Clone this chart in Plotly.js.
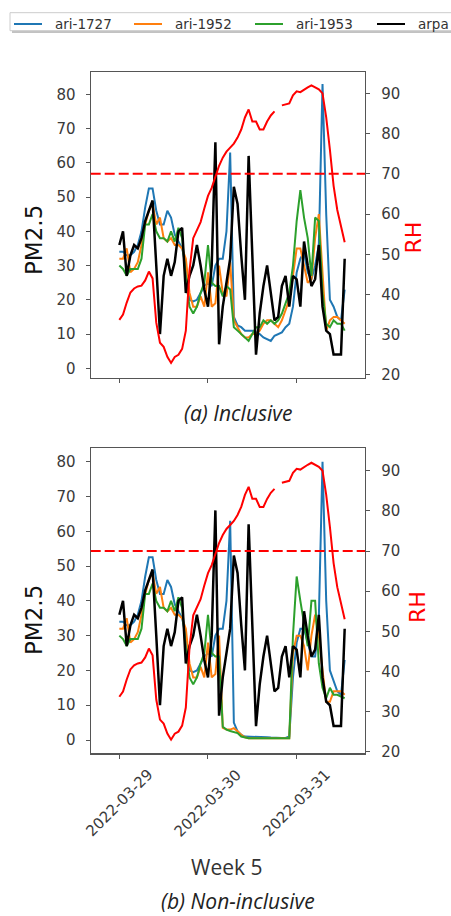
<!DOCTYPE html>
<html>
<head>
<meta charset="utf-8">
<script src="https://cdn.plot.ly/plotly-3.0.1.min.js"></script>
<style>html,body{margin:0;padding:0;background:#fff;}#chart{width:451px;height:916px;}</style>
</head>
<body>
<div id="chart"></div>
<script>
// ---------- DATA ----------
const seriesNames = ['ari-1727', 'ari-1952', 'ari-1953', 'arpa'];
const seriesColors = ['#1f77b4', '#ff7f0e', '#2ca02c', '#000000'];
const startHour = '2022-03-29 00:00';
const nHours = 62;
const tickDates = ['2022-03-29', '2022-03-30', '2022-03-31'];
const tickLabels = ['2022-03-29', '2022-03-30', '2022-03-31'];
const rhThreshold = 70;
const panelCaptions = ['(a) Inclusive', '(b) Non-inclusive'];
const xTitle = 'Week 5';

// (a) Inclusive
const ari1727_a = [34,34,33,33,34,36,40,47,52.5,52.5, 46,42,42,46,44,39,37,35,30,20, 19.5,20,22,24,25,24,30,32,32,40,
  63,15,12.5,12,11,11,11,10.5,10,9, 8.5,8,9.5,10,10.5,12,13,18,28,32, 34,28,26,30,36,83,45,20,18,15, 14,23];
const ari1952_a = [32,32,35,28,29,31,36,42,46,48, 42,44,38,37,38,36,36,35,32,22, 18,18,21,18,28,18,19,30,22,21,
  31,14,12,10,9,9,10,10,11,13, 14,14,13,12,14,17,20,27,35,35, 30,25,26,38,45,28,11,14,15,15, 14,13];
const ari1953_a = [30,29,27,29,29,29,32,42,42,45, 40,38,38,37,40,37,41,38,26,18, 16,18,22,25,36,25,24,24,21,24,
  23,12,11,10,9,8,10,12,12,14, 13,14,13,14,16,19,22,30,43,52, 44,38,27,44,43,22,13,12,14,13, 13,11];
// arpa reference (same in both panels)
const arpa = [36,40,27,33,36,35,38,43,46,49, 30,10,27,32,27,31,40,41,22,27, 30,36,30,23,18,30,66,7,18,25,
  32,53,48,33,20,62,31,4,16,24, 30,22,14,15,24,27,18,27,26,18, 37,30,24,26,36,18,11,10,4,4, 4,32];
// relative humidity (same in both panels)
const rh = [33.7,35,38,40.5,41.5,42,42.2,43.5,45.7,44, 33,28,27,24.5,23,24.5,25,26.5,31,46, 54,56,58,61.4,64.5,66.5,69.5,72,74,75.5,
  76.5,77.5,79,81,84,86,83,83,81,81, 83,84.5,85.5,null,87,87.3,87.5,89.5,90.5,90.3, 91,91.5,92,91.5,91,90,84,76,67,61, 57,53];

// (b) Non-inclusive
const ari1727_b = [34,34,33,33,34,36,40,47,52.5,52.5, 46,42,42,46,44,39,37,35,30,20, 19.5,20,22,24,25,24,30,32,32,40,
  63,5,2.5,1.5,1,1,1,1,0.8,0.8, 0.8,0.7,0.6,0.6,0.6,0.6,1,18,28,32, 32,28,24,24,35,80,40,20,17,14, 13,23];
const ari1952_b = [32,32,35,28,29,31,36,42,46,48, 42,44,38,37,38,36,36,35,32,22, 18,18,21,18,28,18,19,30,3.5,3,
  3,3.4,2.5,1.5,0.8,0.5,0.5,0.5,0.6,0.5, 0.5,0.5,0.6,0.5,0.5,0.5,0.5,25,30,30, 27,20,30,36,30,20,11,11,14,14, 14,13];
const ari1953_b = [30,29,27,29,29,29,32,42,42,45, 40,38,38,37,40,37,41,38,26,18, 16,18,22,25,36,25,24,24,3.8,3,
  2.6,2.4,2,1,0.7,0.5,0.5,0.6,0.5,0.5, 0.5,0.5,0.5,0.5,0.5,0.5,0.5,30,47,40, 33,27,40,40,22,15,12,15,13,13, 12.5,12];

// ---------- BUILD ----------
function hourStamp(h) {
  const base = new Date(startHour.replace(' ', 'T') + ':00Z');
  const d = new Date(base.getTime() + h * 3600000);
  return d.toISOString().slice(0, 16).replace('T', ' ');
}
const times = Array.from({length: nHours}, (_, i) => hourStamp(i));

const W = 451, H = 916;
const px = v => v / W;
const py = v => 1 - v / H;

const panels = [
  {x: 'x', y: 'y', y2: 'y2', data: [ari1727_a, ari1952_a, ari1953_a, arpa]},
  {x: 'x2', y: 'y3', y2: 'y4', data: [ari1727_b, ari1952_b, ari1953_b, arpa]}
];

const traces = [];
panels.forEach(p => {
  p.data.forEach((vals, i) => {
    traces.push({
      x: times, y: vals, xaxis: p.x, yaxis: p.y, type: 'scatter', mode: 'lines',
      name: seriesNames[i], showlegend: false,
      line: {color: seriesColors[i], width: i === 3 ? 2.5 : 2}
    });
  });
});
panels.forEach(p => {
  traces.push({
    x: times, y: rh, xaxis: p.x, yaxis: p.y2, type: 'scatter', mode: 'lines',
    name: 'RH', showlegend: false, connectgaps: false,
    line: {color: '#ff0000', width: 2}
  });
});

const tickFont = {family: 'DejaVu Sans', size: 15, color: '#3a3a3a'};
const lineCol = '#555';
const xRange = ['2022-03-28 16:15', '2022-03-31 18:30'];
const xDomain = [px(90.7), px(365)];

function xAxis(anchor) {
  return {domain: xDomain, anchor: anchor, type: 'date', range: xRange,
    tickvals: tickDates, showticklabels: false, ticks: 'outside', ticklen: 4, tickcolor: lineCol,
    showline: true, mirror: true, linecolor: lineCol, linewidth: 1.2, showgrid: false, zeroline: false};
}
function leftAxis(anchor, domain, range) {
  return {domain: domain, anchor: anchor, range: range, tickvals: [0,10,20,30,40,50,60,70,80],
    ticks: 'outside', ticklen: 4, tickcolor: lineCol, ticklabelstandoff: 7, tickfont: tickFont,
    showline: true, linecolor: lineCol, linewidth: 1.2, showgrid: false, zeroline: false};
}
function rightAxis(anchor, over, range) {
  return {overlaying: over, anchor: anchor, side: 'right', range: range, tickvals: [20,30,40,50,60,70,80,90],
    ticks: 'outside', ticklen: 4, tickcolor: lineCol, ticklabelstandoff: 8, tickfont: tickFont,
    showline: true, linecolor: lineCol, linewidth: 1.2, showgrid: false, zeroline: false};
}

const shapes = [];
const annotations = [];
function note(o) {
  annotations.push(Object.assign({xref: 'paper', yref: 'paper', showarrow: false, xanchor: 'center', yanchor: 'middle'}, o));
}

// threshold lines
[['x', 'y2'], ['x2', 'y4']].forEach(([xa, ya]) => {
  shapes.push({type: 'line', xref: xa + ' domain', yref: ya, x0: 0, x1: 1, y0: rhThreshold, y1: rhThreshold,
    line: {color: '#ff0000', width: 2, dash: '10px,4px'}, layer: 'above'});
});

// axis titles
const titleFont = {family: 'DejaVu Sans', size: 23, color: '#111'};
const rhFont = {family: 'DejaVu Sans', size: 22, color: '#ff0000'};
note({text: 'PM2.5', x: px(34), y: py(240), textangle: -90, font: titleFont});
note({text: 'PM2.5', x: px(34), y: py(620), textangle: -90, font: titleFont});
note({text: 'RH', x: px(412.5), y: py(238), textangle: -90, font: rhFont});
note({text: 'RH', x: px(417.5), y: py(607.5), textangle: -90, font: rhFont});

// rotated date tick labels (centered under ticks)
tickDates.forEach((d, i) => {
  note({text: tickLabels[i], xref: 'x2', x: d, y: py(803), textangle: -45, font: tickFont});
});

// x title & captions
note({text: xTitle, x: px(226), y: py(866.7), font: {family: 'Open Sans', size: 21, color: '#333'}});
const capFont = {family: 'Open Sans', size: 21, color: '#222', style: 'italic'};
note({text: panelCaptions[0], x: px(237.5), y: py(413), font: capFont});
note({text: panelCaptions[1], x: px(237.5), y: py(901), font: capFont});

// legend box (matplotlib-style, clipped on the right)
shapes.push({type: 'rect', xref: 'paper', yref: 'paper', x0: px(12), x1: px(470), y0: py(33), y1: py(15),
  fillcolor: '#999', opacity: 0.6, line: {width: 0}, layer: 'above'});
shapes.push({type: 'rect', xref: 'paper', yref: 'paper', x0: px(10), x1: px(470), y0: py(30.7), y1: py(12.7),
  fillcolor: '#fff', line: {color: '#ccc', width: 1}, layer: 'above'});
const legLineX = [14, 134, 255, 377];
seriesNames.forEach((n, i) => {
  shapes.push({type: 'line', xref: 'paper', yref: 'paper', x0: px(legLineX[i]), x1: px(legLineX[i] + 28),
    y0: py(24), y1: py(24), line: {color: seriesColors[i], width: 2}, layer: 'above'});
  note({text: n, x: px(legLineX[i] + 39), y: py(24), xanchor: 'left', font: {family: 'DejaVu Sans', size: 13.5, color: '#333'}});
});

const layout = {
  width: W, height: H, margin: {l: 0, r: 0, t: 0, b: 0},
  paper_bgcolor: '#fff', plot_bgcolor: '#fff', showlegend: false,
  xaxis: xAxis('y'),
  xaxis2: xAxis('y3'),
  yaxis: leftAxis('x', [py(378), py(72)], [-2.83, 86.5]),
  yaxis2: rightAxis('x', 'y', [19.25, 95.3]),
  yaxis3: leftAxis('x2', [py(753.3), py(448.3)], [-3.82, 83.85]),
  yaxis4: rightAxis('x2', 'y3', [19.6, 95.6]),
  shapes: shapes, annotations: annotations
};

Plotly.newPlot('chart', traces, layout, {displayModeBar: false, staticPlot: true});
</script>
</body>
</html>
